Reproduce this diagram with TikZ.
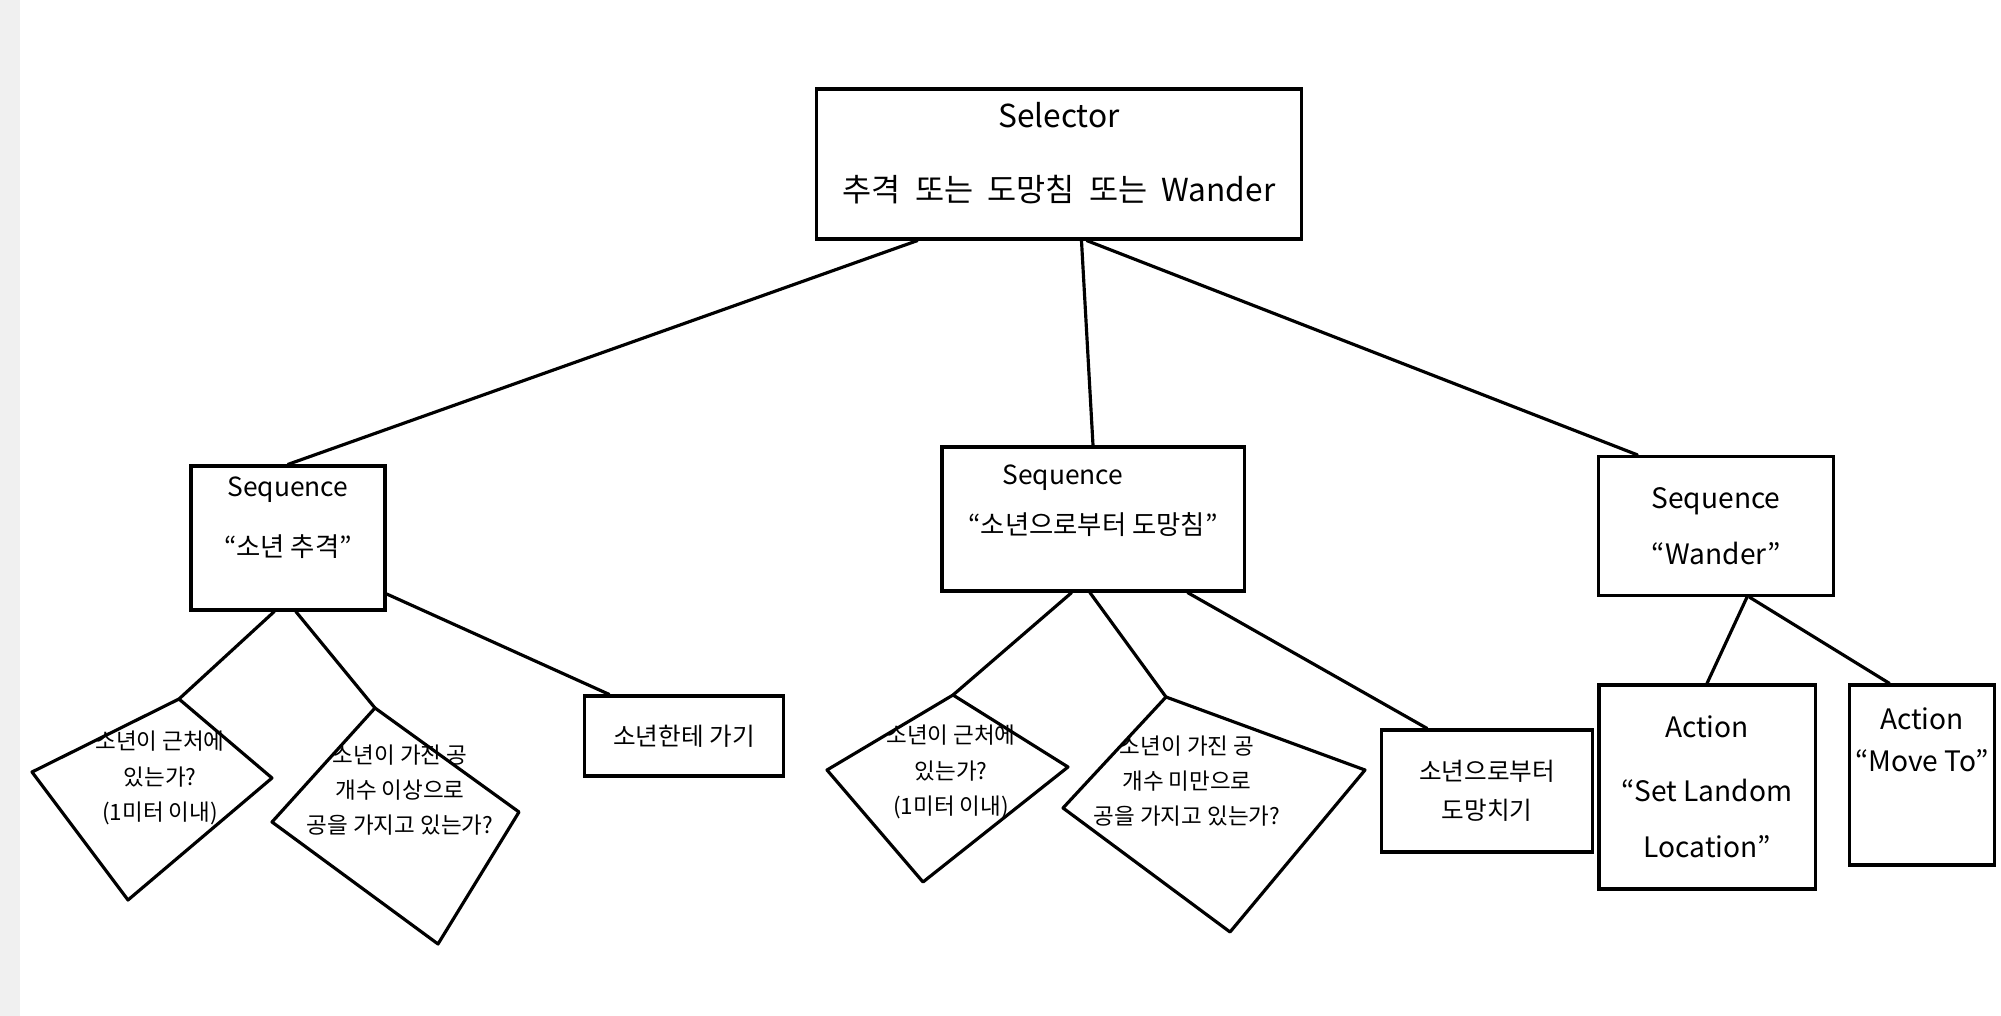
\documentclass[tikz,border=0pt]{standalone}
\usepackage{fontspec}
\setmainfont{Noto Sans CJK KR}
\usetikzlibrary{calc,
	positioning}

\begin{document}
\begin{tikzpicture}[x=0.01cm, y=-0.01cm,
	box/.style={draw, line width=0.9pt, align=center, inner sep=0pt},
	link/.style={line width=0.9pt, line cap=round},
	cond/.style={line width=0.9pt, line join=round},
	condtext/.style={align=center, font=\fontsize{6.4}{10}\selectfont}]
	\useasboundingbox (0,0) rectangle (2001,1016);
	\fill[black!6] (0,0) rectangle (20,1016);
	% Root
	\node[box, minimum width=4.85cm, minimum height=1.5cm, font=\fontsize{9}{11}\selectfont] (selector) at (1059,164) {Selector\\[10pt]추격 \ 또는 \ 도망침 \ 또는 \ Wander\\[-4pt]};
	% Sequences
	\node[box, minimum width=1.94cm, minimum height=1.44cm, font=\fontsize{7.5}{9}\selectfont] (chase) at (288,538) {Sequence\\[8pt]“소년 추격”\\[3pt]};
	\node[box, minimum width=3.02cm, minimum height=1.44cm, font=\fontsize{7.5}{9}\selectfont] (flee) at (1093,519) {Sequence\hspace*{0.6cm}\\[5pt]“소년으로부터 도망침”\\[2pt]};
	\node[box, minimum width=2.35cm, minimum height=1.39cm, font=\fontsize{8}{10}\selectfont] (wander) at (1716,526) {Sequence\\[6pt]“Wander”};
	% Leaves
	\node[box, minimum width=1.99cm, minimum height=0.8cm, font=\fontsize{7}{9}\selectfont] (goto) at (684,736) {소년한테 가기};
	\node[box, minimum width=2.11cm, minimum height=1.22cm, font=\fontsize{7}{9}\selectfont] (runaway) at (1487,791) {소년으로부터\\[2pt]도망치기};
	\node[box, minimum width=2.16cm, minimum height=2.04cm, font=\fontsize{8}{10}\selectfont] (setloc) at (1707,787) {Action\\[8pt]“Set Landom\\[6pt]Location”};
	\node[box, minimum width=1.45cm, minimum height=1.8cm, font=\fontsize{8}{10}\selectfont] (moveto) at (1922,775) {Action\\[2pt]“Move To”\\[10pt]};
	% Conditions (left, top, right, bottom)
	\foreach \name/\lx/\ly/\tx/\ty/\rx/\ry/\bx/\by in {
		nearA/32/772/179/699/272/778/128/900,
		ballsA/272/822/375/708/519/812/438/944,
		nearB/827/770/953/695/1068/767/923/882,
		ballsB/1063/808/1166/697/1365/770/1230/932}{
		\coordinate (\name-l) at (\lx,\ly);
		\coordinate (\name-t) at (\tx,\ty);
		\coordinate (\name-r) at (\rx,\ry);
		\coordinate (\name-b) at (\bx,\by);
		\draw[cond] (\name-l) -- (\name-t) -- (\name-r) -- (\name-b) -- cycle;
	}
	\node[condtext] (nearAtext) at (160,778) {소년이 근처에\\있는가?\\(1미터 이내)};
	\node[condtext] (ballsAtext) at (400,790) {소년이 가진 공\\개수 이상으로\\공을 가지고 있는가?};
	\node[condtext] (nearBtext) at (951,772) {소년이 근처에\\있는가?\\(1미터 이내)};
	\node[condtext] (ballsBtext) at (1187,781) {소년이 가진 공\\개수 미만으로\\공을 가지고 있는가?};
	% Links
	\draw[link] ($(selector.south west)!.21!(selector.south east)$) -- (chase.north);
	\draw[link] ($(selector.south west)!.546!(selector.south east)$) -- (flee.north);
	\draw[link] ($(selector.south west)!.557!(selector.south east)$) -- ($(wander.north west)!.17!(wander.north east)$);
	\draw[link] ($(chase.south west)!.43!(chase.south east)$) -- (nearA-t);
	\draw[link] ($(chase.south west)!.54!(chase.south east)$) -- (ballsA-t);
	\draw[link] ($(chase.south east)!.12!(chase.north east)$) -- ($(goto.north west)!.13!(goto.north east)$);
	\draw[link] ($(flee.south west)!.43!(flee.south east)$) -- (nearB-t);
	\draw[link] ($(flee.south west)!.49!(flee.south east)$) -- (ballsB-t);
	\draw[link] ($(flee.south west)!.81!(flee.south east)$) -- ($(runaway.north west)!.22!(runaway.north east)$);
	\draw[link] ($(wander.south west)!.63!(wander.south east)$) -- (setloc.north);
	\draw[link] ($(wander.south west)!.64!(wander.south east)$) -- ($(moveto.north west)!.28!(moveto.north east)$);
\end{tikzpicture}
\end{document}
